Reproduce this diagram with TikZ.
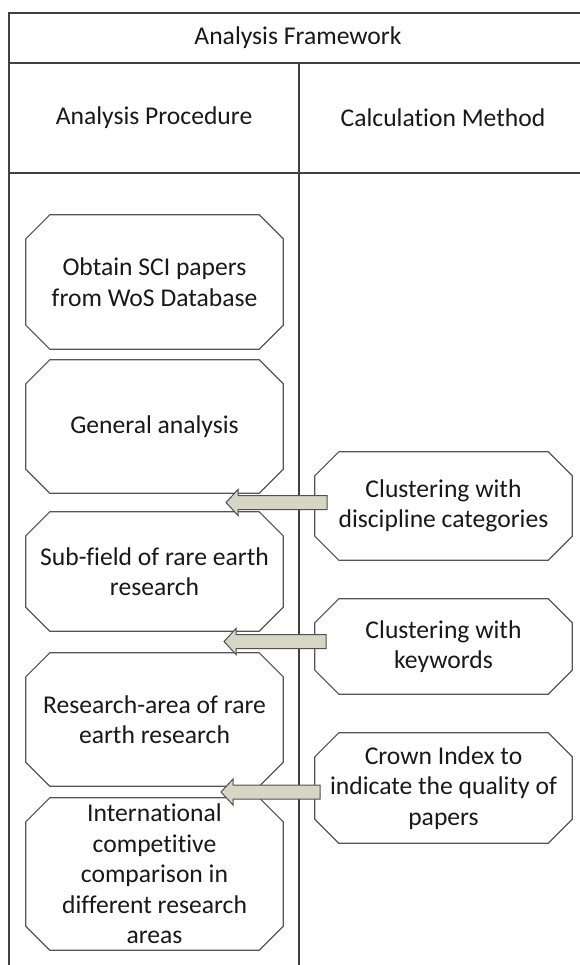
\documentclass[tikz,border=0pt]{standalone}
\usepackage{fontspec}
\setmainfont{Carlito}[Ligatures=NoCommon]
\usetikzlibrary{calc}
\definecolor{linec}{RGB}{64,64,64}
\definecolor{boxc}{RGB}{85,85,85}
\definecolor{arrowfill}{RGB}{214,214,196}
\definecolor{arrowline}{RGB}{80,80,80}
\definecolor{txt}{RGB}{25,25,25}
\newcommand\octbox[1]{\draw[boxline] ([xshift=24pt]#1.north west) -- ([xshift=-24pt]#1.north east) -- ([yshift=-24pt]#1.north east) -- ([yshift=24pt]#1.south east) -- ([xshift=-24pt]#1.south east) -- ([xshift=24pt]#1.south west) -- ([yshift=24pt]#1.south west) -- ([yshift=-24pt]#1.north west) -- cycle;}
\newcommand\blockarrow[2]{\draw[barrow] let \p1=(#1), \p2=(#2) in (\x1,\y1+7pt) -- (\x2+12pt,\y1+7pt) -- (\x2+12pt,\y1+13pt) -- (\x2,\y1) -- (\x2+12pt,\y1-13pt) -- (\x2+12pt,\y1-7pt) -- (\x1,\y1-7pt) -- cycle;}
\begin{document}
\begin{tikzpicture}[x=1pt,y=-1pt,
  every node/.style={font=\fontsize{25.6}{30.5}\selectfont, text=txt, align=center, inner sep=0pt},
  tline/.style={draw=linec, line width=1.3pt},
  boxline/.style={draw=boxc, line width=1.2pt, fill=white},
  lbox/.style={minimum width=257pt},
  barrow/.style={draw=arrowline, line width=1pt, fill=arrowfill, line join=miter}]
\useasboundingbox (0,0) rectangle (580,965);
\fill[white] (0,0) rectangle (580,965);
% table
\draw[tline] (9,967) -- (9,13) -- (582,13);
\draw[tline] (9,63) -- (582,63);
\draw[tline] (9,173) -- (582,173);
\draw[tline] (299,63) -- (299,967);
\node (fw) at (298,38) {Analysis Framework};
\node (proc) at (154,118) {Analysis Procedure};
\node (meth) at (443,118) {Calculation Method};
% left column boxes
\node[lbox, minimum height=134pt] (obtain) at (154.5,282) {};
\node[lbox, minimum height=133pt] (general) at (154.5,426.5) {};
\node[lbox, minimum height=119pt] (subfield) at (154.5,571.5) {};
\node[lbox, minimum height=133pt] (research) at (154.5,719.5) {};
\node[lbox, minimum height=152pt] (intl) at (154.5,874) {};
% right column boxes
\node[lbox, minimum height=108pt] (disc) at (443.5,506) {};
\node[lbox, minimum height=95pt] (keyw) at (443.5,646.5) {};
\node[lbox, minimum height=110pt] (crown) at (443.5,788) {};
\octbox{obtain}\octbox{general}\octbox{subfield}\octbox{research}\octbox{intl}
\octbox{disc}\octbox{keyw}\octbox{crown}
\node at (obtain) {Obtain SCI papers\\from WoS Database};
\node at (general) {General analysis};
\node at (subfield) {Sub-field of rare earth\\research};
\node at (research) {Research-area of rare\\earth research};
\node at (intl) {International\\competitive\\comparison in\\different research\\areas};
\node at (disc) {Clustering with\\discipline categories};
\node at (keyw) {Clustering with\\keywords};
\node at (crown) {Crown Index to\\indicate the quality of\\papers};
% arrows
\coordinate (a1t) at (327,502.5);
\coordinate (a1h) at (226,502.5);
\coordinate (a2t) at (326,641.5);
\coordinate (a2h) at (224,641.5);
\coordinate (a3t) at (320,792);
\coordinate (a3h) at (221,792);
\blockarrow{a1t}{a1h}
\blockarrow{a2t}{a2h}
\blockarrow{a3t}{a3h}
\end{tikzpicture}
\end{document}
